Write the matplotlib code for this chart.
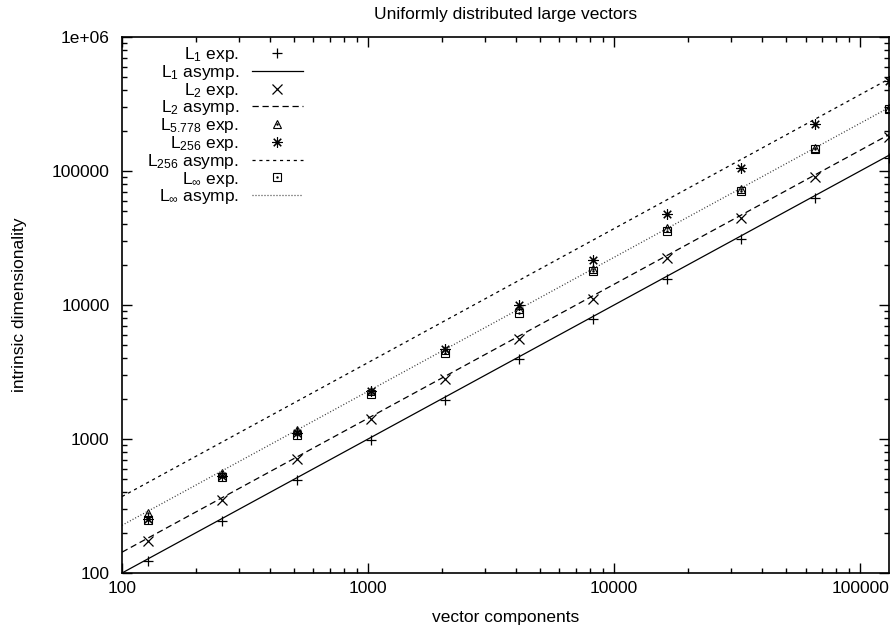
import matplotlib
matplotlib.use('Agg')
import matplotlib.pyplot as plt
from matplotlib import ticker
import numpy as np

plt.rcParams['font.family'] = ['Liberation Sans', 'DejaVu Sans']
plt.rcParams['mathtext.default'] = 'regular'
plt.rcParams['font.size'] = 12.5

# vector components (2^7 .. 2^17)
dims = [128, 256, 512, 1024, 2048, 4096, 8192, 16384, 32768, 65536, 131072]

# measured intrinsic dimensionality
l1_exp = [123, 245, 495, 985, 1968, 3950, 7870, 15700, 31300, 62800, 126000]
l2_exp = [174, 349, 710, 1419, 2817, 5585, 11140, 22500, 44600, 89900, 180600]
l5778_exp = [280, 560, 1160, 2280, 4650, 9300, 18600, 37300, 74000, 149000, 295000]
l256_exp = [255, 525, 1100, 2300, 4690, 10000, 21600, 47700, 105000, 224000, 471000]
linf_exp = [250, 517, 1080, 2178, 4415, 8770, 17900, 35500, 71300, 146000, 290000]

# asymptotic curves (end points over the x range)
asymp_x = [100, 131072]
l1_asymp = [100, 131072]
l2_asymp = [143, 187000]
l256_asymp = [372, 487000]
linf_asymp = [227, 297500]

fig = plt.figure(figsize=(8.96, 6.33), dpi=100)
ax = fig.add_axes([0.1362, 0.0948, 0.8560, 0.8467])

lw = 0.9
h1, = ax.plot(dims, l1_exp, '+', color='black', ms=7.5, mew=0.9, linestyle='none')
h2, = ax.plot(asymp_x, l1_asymp, '-', color='black', lw=lw)
h3, = ax.plot(dims, l2_exp, 'x', color='black', ms=7, mew=0.9, linestyle='none')
h4, = ax.plot(asymp_x, l2_asymp, color='black', lw=lw, dashes=(5, 3))
h5, = ax.plot(dims, l5778_exp, '^', color='black', ms=6, mew=0.8, mfc='none', linestyle='none')
h5b, = ax.plot(dims, l5778_exp, '.', color='black', ms=1.5, linestyle='none')
h6, = ax.plot(dims, l256_exp, marker=(8, 2, 0), color='black', ms=7.5, mew=0.8, linestyle='none')
h7, = ax.plot(asymp_x, l256_asymp, color='black', lw=lw, dashes=(2.5, 3))
h8, = ax.plot(dims, linf_exp, 's', color='black', ms=6, mew=0.8, mfc='none', linestyle='none')
h8b, = ax.plot(dims, linf_exp, '.', color='black', ms=1.5, linestyle='none')
h9, = ax.plot(asymp_x, linf_asymp, color='#333333', lw=lw, dashes=(0.8, 1.6))

ax.set_xscale('log')
ax.set_yscale('log')
ax.set_xlim(100, 131072)
ax.set_ylim(100, 1e6)

ax.xaxis.set_major_locator(ticker.FixedLocator([100, 1000, 10000, 100000]))
ax.xaxis.set_major_formatter(ticker.FixedFormatter(['100', '1000', '10000', '100000']))
ax.yaxis.set_major_locator(ticker.FixedLocator([100, 1000, 10000, 100000, 1e6]))
ax.yaxis.set_major_formatter(ticker.FixedFormatter(['100', '1000', '10000', '100000', '1e+06']))
ax.xaxis.set_minor_locator(ticker.LogLocator(base=10, subs=np.arange(2, 10), numticks=20))
ax.yaxis.set_minor_locator(ticker.LogLocator(base=10, subs=np.arange(2, 10), numticks=20))
ax.xaxis.set_minor_formatter(ticker.NullFormatter())
ax.yaxis.set_minor_formatter(ticker.NullFormatter())

ax.tick_params(which='both', direction='in', top=True, right=True, width=1)
ax.tick_params(which='major', length=7, labelsize=12.5)
ax.tick_params(axis='x', which='major', pad=6)
ax.tick_params(axis='y', which='major', pad=9)
ax.tick_params(which='minor', length=3.5)
for sp in ax.spines.values():
    sp.set_linewidth(1.2)

ax.set_xlabel('vector components', labelpad=10)
ax.set_ylabel('intrinsic dimensionality', labelpad=18)
ax.set_title('Uniformly distributed large vectors', fontsize=12.5, pad=13)

handles = [h1, h2, h3, h4, (h5, h5b), h6, h7, (h8, h8b), h9]
labels = ['L$_1$ exp.', 'L$_1$ asymp.', 'L$_2$ exp.', 'L$_2$ asymp.',
          'L$_{5.778}$ exp.', 'L$_{256}$ exp.', 'L$_{256}$ asymp.',
          'L$_\\infty$ exp.', 'L$_\\infty$ asymp.']
ax.legend(handles, labels, loc='upper right', bbox_to_anchor=(0.236, 0.985),
          frameon=False, markerfirst=False, borderpad=0, borderaxespad=0,
          labelspacing=-0.07, handlelength=2.95, handletextpad=0.75)

fig.savefig('out.png', dpi=100)
